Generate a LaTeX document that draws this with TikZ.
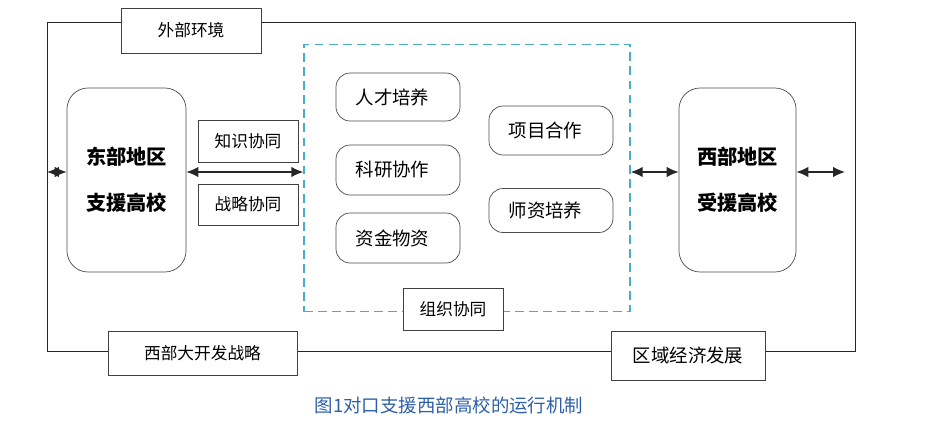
\documentclass[tikz,border=0pt]{standalone}
\usepackage{fontspec}
\setmainfont{Noto Sans CJK SC}
\usepackage{tikz}
\usetikzlibrary{arrows.meta,calc,positioning}
\definecolor{dashblue}{HTML}{4BACC6}
\definecolor{capblue}{HTML}{2E5FA8}

\begin{document}
\begin{tikzpicture}[x=0.02cm,y=-0.02cm,
    bx/.style 2 args={minimum width=#1*0.02cm,minimum height=#2*0.02cm},
    sqbox/.style={draw=black!75,fill=white,inner sep=0pt,font=\fontsize{9.5}{11}\selectfont},
    rdbox/.style={draw=black!70,fill=white,rounded corners=8pt,inner sep=0pt,font=\fontsize{10.5}{12}\selectfont},
    tall/.style={draw=black!70,fill=white,rounded corners=12pt,inner sep=0pt,align=center,
      font=\fontsize{11.5}{26}\selectfont\bfseries},
    link/.style={{Latex[length=2.4mm,width=2.1mm]}-{Latex[length=2.4mm,width=2.1mm]},black!85,thick}]
        \useasboundingbox (0,0) rectangle (936,433);
        % outer frame
        \draw[black!85] (47,22) rectangle (855,351);
        \node[sqbox,bx={140}{45}] (env) at (191,30.5) {外部环境};
        \node[sqbox,bx={189}{44}] (strategy) at (202.5,353) {西部大开发战略};
        \node[sqbox,bx={154}{49},font=\fontsize{10.5}{12}\selectfont] (economy) at (688,355.5) {区域经济发展};
        % universities
        \node[tall,bx={119}{184}] (east) at (126.5,180) {东部地区\\支援高校};
        \node[tall,bx={117}{184}] (west) at (737.5,180) {西部地区\\受援高校};
        \node[sqbox,bx={100}{42}] (know) at (248,141) {知识协同};
        \node[sqbox,bx={100}{41}] (plan) at (248,204.5) {战略协同};
        % cooperation area
        \node[draw=dashblue,thick,dash pattern=on 5pt off 3pt,bx={326}{267}] (org) at (467,178) {};
        \node[rdbox,bx={124}{48}] (talent) at (398,97) {人才培养\hspace*{0.6em}};
        \node[rdbox,bx={124}{50}] (research) at (398,170) {科研协作\hspace*{0.6em}};
        \node[rdbox,bx={124}{50}] (fund) at (398,238) {资金物资\hspace*{0.6em}};
        \node[rdbox,bx={124}{49}] (project) at (551,130.5) {项目合作\hspace*{0.6em}};
        \node[rdbox,bx={124}{44}] (teacher) at (551,210.5) {师资培养\hspace*{0.6em}};
        \node[sqbox,bx={100}{42}] (orgsyn) at (453,309) {组织协同};
        \coordinate (fl) at (47,172);
        \coordinate (fr) at (845,172);
        \draw[link] (fl) -- (fl -| east.west);
        \draw[link] (east.east |- fl) -- (org.west |- fl);
        \draw[link] (org.east |- fl) -- (west.west |- fl);
        \draw[link] (west.east |- fr) -- (fr);
        \node[text=capblue,font=\fontsize{10.5}{12}\selectfont] (caption) at (449,405) {图1对口支援西部高校的运行机制};
      \end{tikzpicture}
\end{document}
